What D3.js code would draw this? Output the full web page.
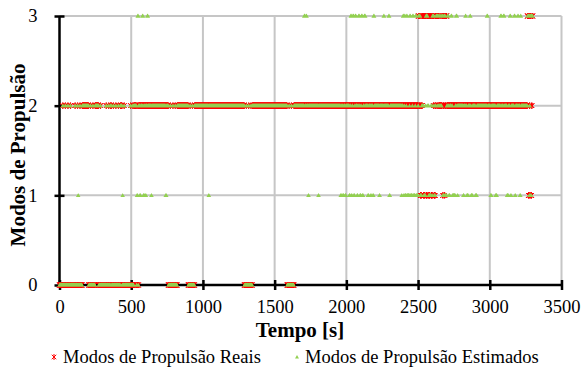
<!DOCTYPE html>
<html>
<head>
<meta charset="utf-8">
<script src="https://cdn.jsdelivr.net/npm/d3@7"></script>
<style>
  html, body { margin: 0; padding: 0; background: #fff; }
  svg text { font-family: "Liberation Serif", "Times New Roman", serif; fill: #000; }
</style>
</head>
<body>
<svg id="chart" width="581" height="370"></svg>
<script>
// Axis ticks
const timeTicks = [0, 500, 1000, 1500, 2000, 2500, 3000, 3500];
const modeTicks = [0, 1, 2, 3];

// Real propulsion mode, as runs: [start s, end s, mode]
const realRuns = [
  [0, 22, 0], [22, 25, 2], [25, 40, 0], [40, 43, 2], [43, 58, 0], [58, 61, 2],
  [61, 76, 0], [76, 79, 2], [79, 108, 0], [108, 111, 2], [111, 125, 0],
  [125, 128, 2], [128, 142, 0], [142, 145, 2], [145, 158, 0],
  [158, 204, 2], [204, 215, 0], [215, 218, 2], [218, 232, 0], [232, 235, 2],
  [235, 248, 0], [248, 274, 2], [274, 285, 0], [285, 288, 2], [288, 325, 0],
  [325, 328, 2], [328, 342, 0], [342, 345, 2], [345, 356, 0], [356, 363, 2],
  [363, 375, 0], [375, 378, 2], [378, 392, 0], [392, 395, 2], [395, 410, 0],
  [410, 413, 2], [413, 425, 0], [425, 437, 2], [437, 450, 0], [450, 453, 2],
  [453, 495, 0], [495, 498, 2], [498, 510, 0], [510, 513, 2], [513, 518, 0],
  [518, 537, 2], [537, 544, 0], [544, 547, 2], [547, 551, 0], [551, 760, 2],
  [760, 772, 0], [772, 775, 2], [775, 790, 0], [790, 793, 2], [793, 806, 0],
  [806, 809, 2], [809, 820, 0], [820, 899, 2], [899, 910, 0], [910, 913, 2],
  [913, 926, 0], [926, 929, 2], [929, 941, 0], [941, 1290, 2],
  [1290, 1302, 0], [1302, 1305, 2], [1305, 1318, 0], [1318, 1321, 2],
  [1321, 1334, 0], [1334, 1337, 2], [1337, 1344, 0], [1344, 1588, 2],
  [1588, 1600, 0], [1600, 1603, 2], [1603, 1616, 0], [1616, 1619, 2],
  [1619, 1634, 0], [1634, 2503, 2],
  [2503, 2510, 3], [2510, 2517, 2], [2517, 2524, 1], [2524, 2530, 2],
  [2530, 2538, 3], [2538, 2546, 1], [2546, 2556, 3], [2556, 2564, 1],
  [2564, 2574, 3], [2574, 2582, 1], [2582, 2592, 3], [2592, 2600, 1],
  [2600, 2607, 3], [2607, 2612, 2], [2612, 2620, 1], [2620, 2625, 2],
  [2625, 2632, 3], [2632, 2636, 2], [2636, 2643, 3], [2643, 2668, 2],
  [2668, 2672, 3], [2672, 2675, 1], [2675, 2680, 2], [2680, 2684, 3],
  [2684, 2687, 1], [2687, 2693, 2], [2693, 2700, 3], [2700, 3263, 2],
  [3263, 3270, 3], [3270, 3276, 1], [3276, 3280, 2], [3280, 3286, 3],
  [3286, 3292, 1], [3292, 3295, 2], [3295, 3300, 3]
];

// Estimated mode: where it departs from the real one, as runs [start s, end s, mode]
const estRuns = [
  [130, 132, 1], [440, 442, 1], [540, 546, 1], [545, 550, 3], [560, 566, 1],
  [578, 583, 3], [585, 592, 1], [600, 604, 1], [612, 617, 3], [640, 643, 1],
  [740, 746, 1], [1040, 1043, 1], [1706, 1712, 3], [1720, 1724, 3],
  [1735, 1738, 1], [1805, 1808, 1],
  [1960, 1966, 1], [1975, 1982, 1], [1992, 1998, 1], [2020, 2026, 1],
  [2030, 2036, 3], [2036, 2040, 1], [2045, 2052, 3], [2052, 2058, 1],
  [2062, 2068, 3], [2075, 2080, 1], [2085, 2092, 3], [2095, 2102, 1],
  [2105, 2112, 3], [2112, 2118, 1], [2125, 2133, 3], [2150, 2156, 1],
  [2170, 2174, 1], [2185, 2190, 1], [2190, 2195, 3], [2230, 2234, 1],
  [2260, 2264, 3], [2295, 2300, 3], [2300, 2305, 1],
  [2385, 2388, 1], [2395, 2400, 3], [2400, 2404, 1], [2406, 2410, 3],
  [2410, 2418, 1], [2420, 2425, 3], [2425, 2440, 1], [2442, 2448, 3],
  [2448, 2460, 1], [2462, 2468, 3], [2468, 2480, 1], [2482, 2488, 3],
  [2488, 2500, 1], [2505, 2515, 3], [2515, 2525, 1],
  [2530, 2540, 2], [2545, 2552, 1], [2552, 2556, 2], [2555, 2565, 3],
  [2566, 2574, 2], [2580, 2590, 1], [2590, 2598, 2], [2600, 2610, 3],
  [2625, 2635, 3], [2650, 2656, 3], [2665, 2672, 3], [2675, 2680, 1],
  [2685, 2690, 3], [2690, 2700, 1], [2705, 2712, 3], [2715, 2722, 1],
  [2730, 2736, 3], [2740, 2760, 1], [2765, 2772, 3], [2775, 2778, 1],
  [2815, 2820, 1], [2830, 2834, 3], [2840, 2850, 1], [2862, 2866, 3],
  [2870, 2880, 1], [2900, 2910, 1], [2980, 2986, 3], [3005, 3012, 1],
  [3040, 3050, 1], [3075, 3082, 3], [3095, 3102, 3], [3120, 3130, 1],
  [3140, 3146, 3], [3146, 3150, 1], [3170, 3176, 3], [3176, 3180, 1],
  [3195, 3200, 3], [3210, 3215, 1], [3215, 3218, 3],
  [3268, 3275, 3], [3275, 3278, 1], [3285, 3290, 1], [3290, 3296, 3]
];

const seriesNames = ["Modos de Propulsão Reais", "Modos de Propulsão Estimados"];
const colors = { real: "#ff0000", est: "#92d050" };
const FONT = "'Liberation Serif', 'Times New Roman', serif";

// Expand runs into the 1 s samples of the logged series
function samplesFromRuns(runs, base) {
  const m = new Map(base ? base.map(d => [d.t, d.mode]) : []);
  runs.forEach(([a, b, mode]) => { for (let t = a; t < b; t++) m.set(t, mode); });
  return Array.from(m, ([t, mode]) => ({ t, mode })).sort((p, q) => p.t - q.t);
}
const realData = samplesFromRuns(realRuns);
const estData = samplesFromRuns(estRuns, realData);

const svg = d3.select("#chart");
const x = d3.scaleLinear().domain([0, 3500]).range([59.5, 561.5]);
const y = d3.scaleLinear().domain([0, 3]).range([285, 16]);

// Grid
svg.append("g").selectAll("line").data(timeTicks.slice(1)).join("line")
  .attr("x1", d => x(d)).attr("x2", d => x(d))
  .attr("y1", y(3)).attr("y2", y(0))
  .attr("stroke", "#c6c6c6").attr("stroke-width", 2);
svg.append("g").selectAll("line").data(modeTicks.slice(1)).join("line")
  .attr("x1", x(0)).attr("x2", x(3500))
  .attr("y1", d => y(d)).attr("y2", d => y(d))
  .attr("stroke", "#c6c6c6").attr("stroke-width", 2);

// Axes (ticks crossing the axis line)
const xAxis = d3.axisBottom(x).tickValues(timeTicks).tickFormat(d3.format("d"))
  .tickSize(5).tickPadding(10);
const gx = svg.append("g").attr("transform", `translate(0,${y(0)})`).call(xAxis);
gx.attr("font-family", null).attr("font-size", null);
gx.select(".domain").remove();
gx.selectAll(".tick line").attr("y1", -5).attr("stroke-width", 2.5);
gx.selectAll("text").style("font-family", FONT).style("font-size", "18.5px");

const yAxis = d3.axisLeft(y).tickValues(modeTicks).tickFormat(d3.format("d"))
  .tickSize(5).tickPadding(17);
const gy = svg.append("g").attr("transform", `translate(${x(0)},0)`).call(yAxis);
gy.attr("font-family", null).attr("font-size", null);
gy.select(".domain").remove();
gy.selectAll(".tick line").attr("x1", 5).attr("stroke-width", 2.5);
gy.selectAll("text").style("font-family", FONT).style("font-size", "18.5px");

svg.append("line").attr("x1", x(0)).attr("x2", x(3500)).attr("y1", y(0)).attr("y2", y(0))
  .attr("stroke", "#000").attr("stroke-width", 2.5);
svg.append("line").attr("x1", x(0)).attr("x2", x(0)).attr("y1", y(0)).attr("y2", y(3))
  .attr("stroke", "#000").attr("stroke-width", 2.5);

// Marker paths
function asterisk(cx, cy, r) {
  const d = r * 0.75;
  return `M${cx},${cy - r}L${cx},${cy + r}M${cx - d},${cy - d}L${cx + d},${cy + d}M${cx - d},${cy + d}L${cx + d},${cy - d}`;
}
function triangle(cx, cy, r) {
  return `M${cx},${cy - r}L${cx + r},${cy + r * 0.8}L${cx - r},${cy + r * 0.8}Z`;
}

svg.append("path")
  .attr("d", realData.map(d => asterisk(x(d.t), y(d.mode), 3)).join(""))
  .attr("stroke", colors.real).attr("stroke-width", 1).attr("fill", "none");
svg.append("path")
  .attr("d", estData.map(d => triangle(x(d.t), y(d.mode), 2.2)).join(""))
  .attr("fill", colors.est).attr("stroke", "none");

// Axis titles
svg.append("text").attr("x", 300).attr("y", 337).attr("text-anchor", "middle")
  .style("font-family", FONT).style("font-size", "21px").style("font-weight", "bold")
  .text("Tempo [s]");
svg.append("text").attr("transform", "translate(25,155) rotate(-90)")
  .attr("text-anchor", "middle")
  .style("font-family", FONT).style("font-size", "21px").style("font-weight", "bold")
  .text("Modos de Propulsão");

// Legend
const leg = svg.append("g");
leg.append("path").attr("d", asterisk(54, 357, 3))
  .attr("stroke", colors.real).attr("stroke-width", 1).attr("fill", "none");
leg.append("text").attr("x", 63).attr("y", 363)
  .style("font-family", FONT).style("font-size", "18.5px").text(seriesNames[0]);
leg.append("path").attr("d", triangle(297, 357, 2))
  .attr("fill", colors.est);
leg.append("text").attr("x", 305).attr("y", 363)
  .style("font-family", FONT).style("font-size", "18.5px").text(seriesNames[1]);
</script>
</body>
</html>
